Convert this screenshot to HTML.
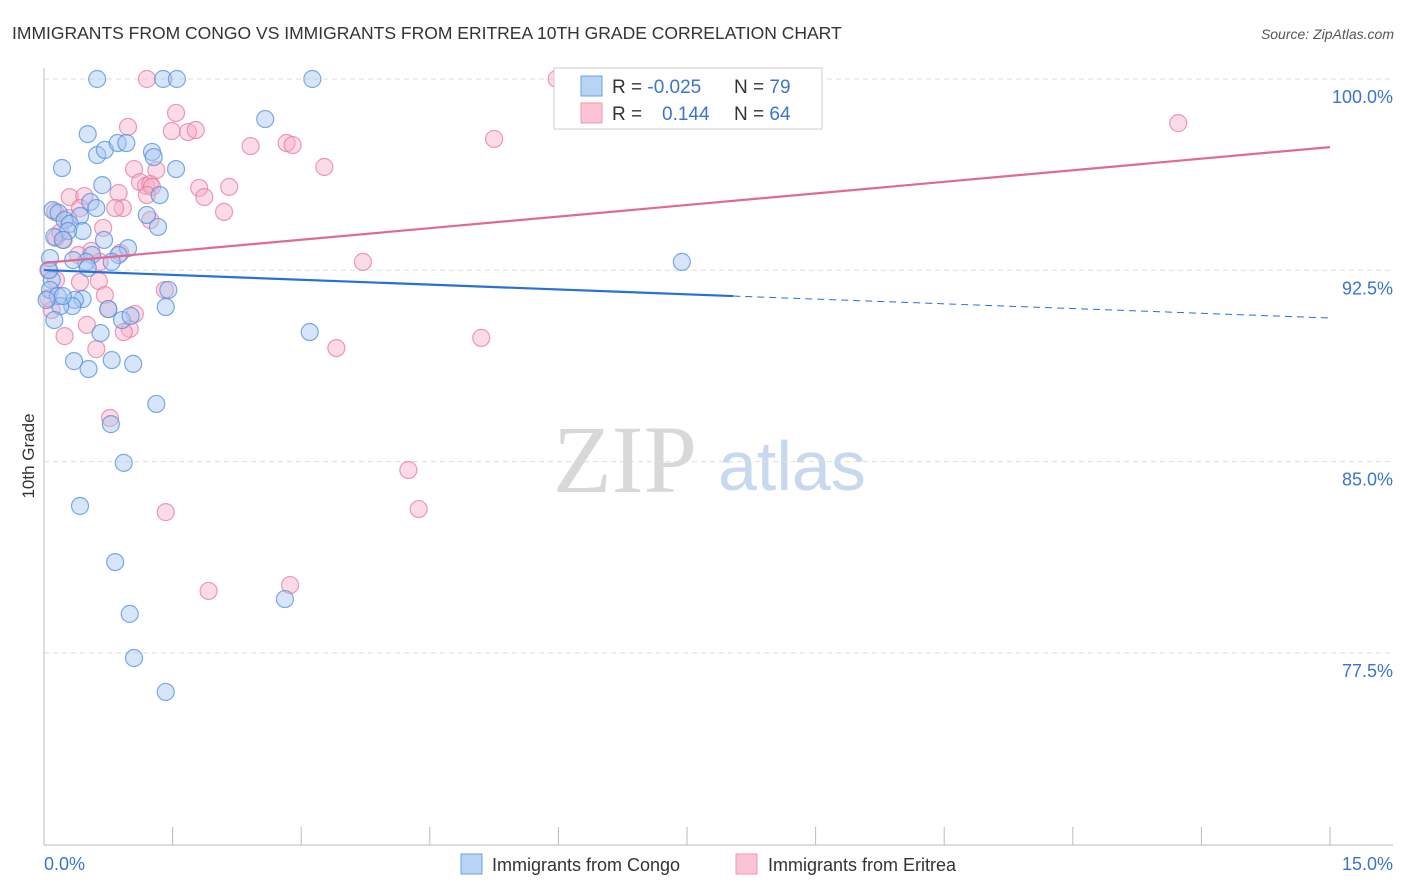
<!DOCTYPE html>
<html><head><meta charset="utf-8"><style>
body{margin:0;background:#fff;font-family:"Liberation Sans",sans-serif}
svg{display:block}
</style></head><body>
<svg id="chart" width="1406" height="892" xmlns="http://www.w3.org/2000/svg">
<text x="12" y="39" font-size="17.5" fill="#333">IMMIGRANTS FROM CONGO VS IMMIGRANTS FROM ERITREA 10TH GRADE CORRELATION CHART</text>
<text x="1394" y="39" font-size="14" fill="#555" font-style="italic" text-anchor="end">Source: ZipAtlas.com</text>
<g>
<text x="553" y="492" font-family="Liberation Serif" font-size="96" fill="#d8d8d8">ZIP</text>
<text x="718" y="490" font-size="70" fill="#c8d8ee">atlas</text>
</g>
<g id="grid"></g>
<g id="axes"></g>
<g id="pts"></g>
<g id="trends"></g>
<text transform="translate(34,456) rotate(-90)" font-size="17" fill="#333" text-anchor="middle">10th Grade</text>
<g>
<rect x="554" y="68" width="268" height="61" fill="#fff" stroke="#ccc"/>
<rect x="581" y="76" width="21" height="20" fill="#b9d3f5" stroke="#6aa0e0"/>
<rect x="581" y="103" width="21" height="20" fill="#fbc3d4" stroke="#ee9ab5"/>
<text x="612" y="93" font-size="19" fill="#333">R = <tspan fill="#3a74d0">-0.025</tspan></text>
<text x="734" y="93" font-size="19" fill="#333">N = <tspan fill="#3a74d0">79</tspan></text>
<text x="612" y="120" font-size="19" fill="#333">R = <tspan fill="#3a74d0" x="662">0.144</tspan></text>
<text x="734" y="120" font-size="19" fill="#333">N = <tspan fill="#3a74d0">64</tspan></text>
</g>
<g>
<rect x="461" y="854" width="21" height="20" fill="#b9d3f5" stroke="#6aa0e0"/>
<text x="492" y="871" font-size="18" fill="#333">Immigrants from Congo</text>
<rect x="736" y="854" width="21" height="20" fill="#fbc3d4" stroke="#ee9ab5"/>
<text x="768" y="871" font-size="18" fill="#333">Immigrants from Eritrea</text>
</g>
</svg>
<script>
const yTicks=[100,92.5,85,77.5];
const yTickLabels=["100.0%","92.5%","85.0%","77.5%"];
const xTickVals=[0,1.5,3,4.5,6,7.5,9,10.5,12,13.5,15];
const xEndLabels=["0.0%","15.0%"];
const congoX=[0.62,1.39,1.55,3.13,2.58,0.51,0.21,0.62,0.71,0.86,0.96,1.26,1.28,1.54,0.68,1.35,0.10,0.17,0.54,0.61,0.42,0.24,0.30,1.20,1.33,0.45,0.28,0.12,0.70,0.22,0.98,0.87,0.56,0.49,0.34,0.79,0.07,0.51,0.09,0.07,0.16,0.45,0.36,0.33,0.19,0.75,1.42,1.45,0.91,1.01,0.12,0.66,3.10,0.35,0.79,0.52,1.04,1.31,0.78,0.93,0.42,0.83,1.00,1.05,1.42,2.81,7.44,0.22,0.06,0.03];
const congoY=[100,100,100,100,98.43,97.84,96.51,97.02,97.22,97.49,97.49,97.14,96.94,96.47,95.84,95.45,94.86,94.75,95.18,94.94,94.63,94.47,94.32,94.67,94.20,94.04,94.04,93.81,93.69,93.69,93.37,93.10,93.10,92.83,92.90,92.83,92.98,92.59,92.12,91.73,91.49,91.37,91.34,91.10,91.10,90.98,91.06,91.73,90.55,90.71,90.55,90.04,90.08,88.94,88.98,88.63,88.83,87.26,86.47,84.95,83.26,81.06,79.03,77.30,75.97,79.61,92.83,91.49,92.51,91.34];
const eritreaX=[5.98,1.20,1.54,0.98,1.49,1.68,1.77,2.41,2.83,2.90,3.27,5.25,13.23,1.05,1.31,1.12,1.19,1.24,1.26,0.87,1.20,1.81,1.87,2.16,0.30,0.47,0.42,0.92,0.83,1.24,2.10,0.13,0.28,0.69,0.14,0.23,0.55,0.40,0.89,0.65,0.14,0.42,0.64,0.05,0.71,0.09,1.41,0.75,1.06,0.50,1.00,0.93,0.24,0.61,3.41,5.10,3.72,0.77,1.42,4.25,4.37,1.92,2.87,0.05,0.19];
const eritreaY=[100,100,98.67,98.12,97.96,97.92,98.00,97.37,97.49,97.41,96.55,97.65,98.27,96.47,96.43,95.96,95.81,95.88,95.77,95.53,95.45,95.73,95.37,95.77,95.37,95.41,94.94,94.94,94.94,94.47,94.79,94.79,94.55,94.16,93.77,93.69,93.26,93.10,93.18,92.83,92.12,92.04,92.08,92.51,91.53,90.94,91.73,90.98,90.79,90.36,90.20,90.08,89.92,89.41,89.45,89.85,92.83,86.71,83.02,84.67,83.14,79.93,80.16,91.41,93.99];
const congoTrend=[92.51,91.49,90.63]; // at x=0, 8.04, 15
const congoTrendX=[0,8.04,15];
const eritreaTrend=[92.79,97.33];
const eritreaTrendX=[0,15];

const NS="http://www.w3.org/2000/svg";
const X=v=>44+v/15*1286;
const Y=v=>79+(100-v)/7.5*191.3;
function mk(tag,attrs,parent){const e=document.createElementNS(NS,tag);for(const k in attrs)e.setAttribute(k,attrs[k]);parent.appendChild(e);return e;}
const grid=document.getElementById('grid'),axes=document.getElementById('axes'),pts=document.getElementById('pts'),tr=document.getElementById('trends');
yTicks.forEach((t,i)=>{
 const l=mk('line',{x1:44,x2:1393,y1:Y(t),y2:Y(t),stroke:'#ddd','stroke-dasharray':'5,4'},grid);
 
 
 const tx=mk('text',{x:1393,y:Y(t)+24,'font-size':18,fill:'#3a74d0','text-anchor':'end'},axes);
 tx.textContent=yTickLabels[i];
 
 
});
const ax=mk('line',{x1:44,x2:44,y1:68,y2:845,stroke:'#bbb'},axes);


const bx=mk('line',{x1:44,x2:1393,y1:845,y2:845,stroke:'#bbb'},axes);


xTickVals.forEach(v=>{
 const t=mk('line',{x1:X(v),x2:X(v),y1:827,y2:845,stroke:'#bbb'},axes);
 
 
});
const xl0=mk('text',{x:44,y:870,'font-size':18,fill:'#3a74d0'},axes);xl0.textContent=xEndLabels[0];


const xl1=mk('text',{x:1393,y:870,'font-size':18,fill:'#3a74d0','text-anchor':'end'},axes);xl1.textContent=xEndLabels[1];


function dots(xs,ys,fill,stroke,name){xs.forEach((x,i)=>{
 const c=mk('circle',{cx:X(x),cy:Y(ys[i]),r:8.5,fill:fill,'fill-opacity':0.45,stroke:stroke,'stroke-opacity':0.75,'stroke-width':1.2},pts);
 
 
});}
dots(eritreaX,eritreaY,'#f7b0c6','#e8799e','eritrea-point');
dots(congoX,congoY,'#a6c6f0','#4f8fe0','congo-point');
const b1=mk('line',{x1:X(congoTrendX[0]),y1:Y(congoTrend[0]),x2:X(congoTrendX[1]),y2:Y(congoTrend[1]),stroke:'#2a6fd6','stroke-width':2.2},tr);


const b2=mk('line',{x1:X(congoTrendX[1]),y1:Y(congoTrend[1]),x2:X(congoTrendX[2]),y2:Y(congoTrend[2]),stroke:'#2a6fd6','stroke-width':1,'stroke-dasharray':'7,5'},tr);


const p1=mk('line',{x1:X(eritreaTrendX[0]),y1:Y(eritreaTrend[0]),x2:X(eritreaTrendX[1]),y2:Y(eritreaTrend[1]),stroke:'#e0699a','stroke-width':2.2},tr);


</script>
</body></html>
